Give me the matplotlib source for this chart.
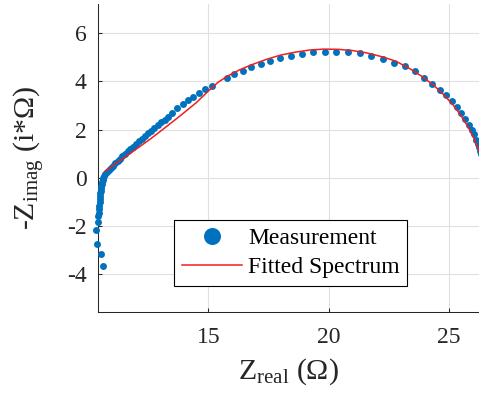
import matplotlib
matplotlib.use('Agg')
import matplotlib.pyplot as plt

# impedance spectrum, Nyquist view (ohm)
meas_re = [10.60, 10.52, 10.36, 10.33, 10.42,
           10.43, 10.45, 10.46, 10.47, 10.48, 10.49, 10.50, 10.51, 10.52, 10.53,
           10.55, 10.56, 10.58, 10.60, 10.63, 10.66,
           10.70, 10.78, 10.86, 10.95, 11.04, 11.13, 11.23, 11.33, 11.43, 11.54,
           11.65, 11.76, 11.88, 12.00, 12.12, 12.24, 12.37, 12.50, 12.63, 12.76,
           12.90, 13.04, 13.18, 13.32, 13.48, 13.71, 13.94, 14.17, 14.38, 14.61,
           14.86, 15.14,
           15.79, 16.08, 16.43, 16.78, 17.18, 17.57, 17.99, 18.44, 18.90, 19.37,
           19.84, 20.31, 20.80, 21.30, 21.78, 22.26, 22.72, 23.17, 23.59, 23.98,
           24.31, 24.62, 24.90, 25.13, 25.34, 25.52, 25.69, 25.83, 25.95, 26.05,
           26.14, 26.20, 26.25, 26.30, 26.34, 26.38]
meas_im = [-3.67, -3.15, -2.74, -2.14, -1.82,
           -1.60, -1.45, -1.30, -1.15, -1.00, -0.88, -0.76, -0.64, -0.53, -0.43,
           -0.33, -0.24, -0.15, -0.07, 0.01, 0.08,
           0.15, 0.24, 0.33, 0.42, 0.51, 0.60, 0.70, 0.80, 0.90, 1.00,
           1.10, 1.20, 1.30, 1.41, 1.52, 1.63, 1.74, 1.85, 1.96, 2.07,
           2.18, 2.30, 2.41, 2.52, 2.70, 2.88, 3.05, 3.22, 3.37, 3.52,
           3.68, 3.82,
           4.15, 4.32, 4.44, 4.59, 4.73, 4.84, 4.98, 5.06, 5.13, 5.20,
           5.23, 5.24, 5.20, 5.16, 5.06, 4.94, 4.77, 4.62, 4.42, 4.16,
           3.90, 3.65, 3.43, 3.17, 2.92, 2.68, 2.45, 2.21, 2.00, 1.80,
           1.59, 1.42, 1.27, 1.12, 0.98, 0.85]

# equivalent circuit fit
fit_re = [10.70, 11.30, 11.90, 12.60, 13.25, 13.90, 14.50, 15.00, 15.40, 15.80,
          16.30, 16.80, 17.40, 18.00, 18.60, 19.20, 19.80, 20.40, 21.00, 21.60,
          22.20, 22.80, 23.40, 23.90, 24.40, 24.80, 25.20, 25.50, 25.80, 26.05,
          26.25, 26.40]
fit_im = [0.27, 0.70, 1.12, 1.62, 2.12, 2.63, 3.12, 3.60, 3.96, 4.22,
          4.48, 4.69, 4.91, 5.09, 5.21, 5.30, 5.34, 5.33, 5.28, 5.18,
          5.03, 4.84, 4.52, 4.20, 3.82, 3.44, 3.00, 2.60, 2.12, 1.64,
          1.14, 0.70]

x_ticks = [15, 20, 25]
y_ticks = [-4, -2, 0, 2, 4, 6]

plt.rcParams['font.family'] = ['Liberation Serif', 'DejaVu Serif']
plt.rcParams['mathtext.fontset'] = 'custom'
plt.rcParams['mathtext.rm'] = 'Liberation Serif'
plt.rcParams['mathtext.it'] = 'Liberation Serif:italic'
plt.rcParams['axes.unicode_minus'] = False

dark = '#262626'

fig = plt.figure(figsize=(4.79, 4.08), dpi=100)
ax = fig.add_axes([0.204, 0.2353, 0.796, 0.7549])

ax.plot(meas_re, meas_im, 'o', color='#0072BD', ms=5.0, mec='none',
        clip_on=False, zorder=3, label='Measurement')
ax.plot(fit_re, fit_im, '-', color='#f01e1e', lw=1.1, zorder=4,
        label='Fitted Spectrum')

ax.set_xlim(10.40, 26.26)
ax.set_ylim(-5.56, 7.21)
ax.set_xticks(x_ticks)
ax.set_yticks(y_ticks)

ax.grid(True, color='#e0e0e0', lw=0.8)
ax.set_axisbelow(True)
for side in ['top', 'right']:
    ax.spines[side].set_visible(False)
for side in ['left', 'bottom']:
    ax.spines[side].set_color(dark)
    ax.spines[side].set_linewidth(0.75)

ax.tick_params(direction='in', length=3, width=0.75, colors=dark, labelsize=17)
ax.tick_params(axis='x', pad=10.5)
ax.tick_params(axis='y', pad=8)

ax.set_xlabel(r'$\mathrm{Z_{real}}$ (Ω)', fontsize=21.5, color=dark, labelpad=6)
ax.set_ylabel(r'-$\mathrm{Z_{imag}}$ (i*Ω)', fontsize=21.5, color=dark, labelpad=14)

leg = ax.legend(loc='upper left', bbox_to_anchor=(0.200, 0.299), borderaxespad=0,
                fontsize=17, markerscale=2.45, handlelength=2.55, handletextpad=0.27,
                borderpad=0.32, labelspacing=0.33, fancybox=False,
                edgecolor='black', framealpha=1)
leg.get_frame().set_linewidth(0.8)

fig.savefig('out.png', dpi=100)
